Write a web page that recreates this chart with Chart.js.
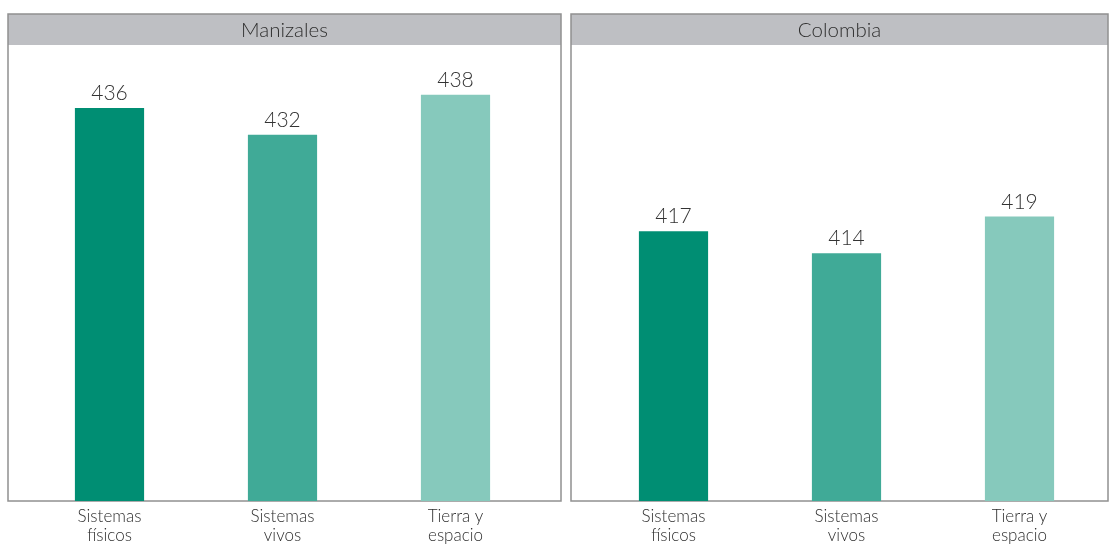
<!DOCTYPE html>
<html>
<head>
<meta charset="utf-8">
<script src="https://cdn.jsdelivr.net/npm/chart.js@4.4.1/dist/chart.umd.min.js"></script>
<style>
  body { margin: 0; background: #fff; }
  .panel { position: absolute; top: 0; }
</style>
</head>
<body>
<canvas id="grafico01" class="panel" style="left:0px" width="566" height="546"></canvas>
<canvas id="grafico02" class="panel" style="left:566px" width="543" height="546"></canvas>
<script>
// categorías y puntajes por área
const categorias = [['Sistemas', 'físicos'], ['Sistemas', 'vivos'], ['Tierra y', 'espacio']];
const puntajesManizales = [436, 432, 438];
const puntajesColombia = [417, 414, 419];
const colores = ['#008e73', '#40aa97', '#86c9bc'];

const FUENTE = "Lato, 'Open Sans', sans-serif";

// marco gris con la franja del título
const marcoPanel = {
    id: 'marcoPanel',
    beforeDraw(chart, args, opts) {
        const ctx = chart.ctx;
        const f = opts.frame;
        ctx.save();
        ctx.fillStyle = '#bebfc3';
        ctx.fillRect(f.left, f.top, f.right - f.left, f.header);
        ctx.strokeStyle = '#909090';
        ctx.lineWidth = 1.5;
        ctx.strokeRect(f.left, f.top, f.right - f.left, f.bottom - f.top);
        ctx.fillStyle = '#2e2e2e';
        ctx.font = '300 20.5px ' + FUENTE;
        ctx.textAlign = 'center';
        ctx.textBaseline = 'middle';
        ctx.fillText(opts.titulo, (f.left + f.right) / 2, f.top + f.header / 2 + 1);
        ctx.restore();
    }
};

// etiqueta con el valor encima de cada barra
const valoresBarras = {
    id: 'valoresBarras',
    afterDatasetsDraw(chart) {
        const ctx = chart.ctx;
        const meta = chart.getDatasetMeta(0);
        const datos = chart.data.datasets[0].data;
        ctx.save();
        ctx.fillStyle = '#333';
        ctx.font = '300 21px ' + FUENTE;
        ctx.textAlign = 'center';
        ctx.textBaseline = 'alphabetic';
        meta.data.forEach((bar, i) => {
            ctx.fillText(datos[i], bar.x, bar.y - 8);
        });
        ctx.restore();
    }
};

function graficar(id, titulo, valores, frame, padding, yMin, yMax) {
    const ctx = document.getElementById(id).getContext('2d');
    return new Chart(ctx, {
        type: 'bar',
        data: {
            labels: categorias,
            datasets: [{
                data: valores,
                backgroundColor: colores,
                categoryPercentage: 1,
                barPercentage: 0.4,
            }]
        },
        options: {
            responsive: false,
            animation: false,
            devicePixelRatio: 1,
            layout: { padding: padding },
            scales: {
                x: {
                    grid: { display: false, drawTicks: false },
                    border: { display: false },
                    ticks: {
                        color: '#2e2e2e',
                        font: { family: FUENTE, size: 17, weight: '300', lineHeight: 1.12 },
                        padding: 6,
                        maxRotation: 0,
                    },
                    afterFit: (s) => { s.height = 45; },
                },
                y: {
                    display: false,
                    min: yMin,
                    max: yMax,
                },
            },
            plugins: {
                legend: { display: false },
                tooltip: { enabled: false },
                marcoPanel: { titulo: titulo, frame: frame },
            },
        },
        plugins: [marcoPanel, valoresBarras],
    });
}

graficar('grafico01', 'Manizales', puntajesManizales,
    { left: 8, right: 561, top: 14, bottom: 501, header: 31 },
    { left: 23, right: 24, top: 45, bottom: 0 }, 377.05, 445.45);

graficar('grafico02', 'Colombia', puntajesColombia,
    { left: 5, right: 542, top: 14, bottom: 501, header: 31 },
    { left: 21, right: 3, top: 45, bottom: 0 }, 380.2, 442.4);
</script>
</body>
</html>
